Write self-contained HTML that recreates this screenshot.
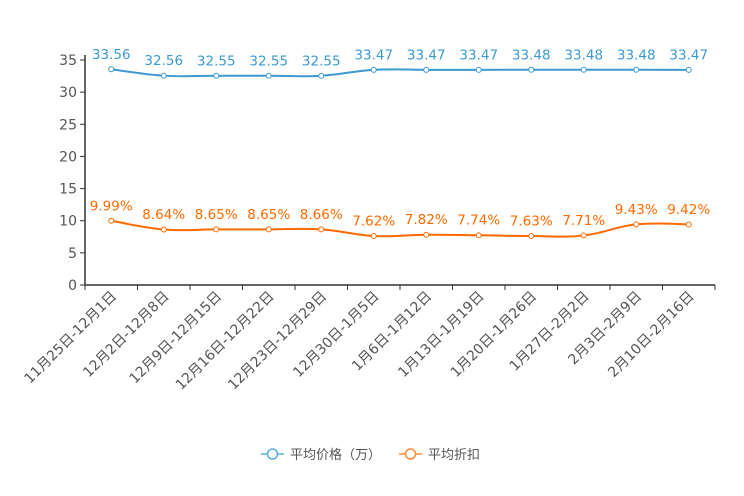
<!DOCTYPE html>
<html><head><meta charset="utf-8"><style>
body{margin:0;background:#fff}
svg{display:block;font-family:"DejaVu Sans","Noto Sans CJK SC",sans-serif}
</style></head><body>
<svg id="c" width="744" height="496"></svg>
<script>
const categories=["11月25日-12月1日","12月2日-12月8日","12月9日-12月15日","12月16日-12月22日","12月23日-12月29日","12月30日-1月5日","1月6日-1月12日","1月13日-1月19日","1月20日-1月26日","1月27日-2月2日","2月3日-2月9日","2月10日-2月16日"];
const priceValues=[33.56,32.56,32.55,32.55,32.55,33.47,33.47,33.47,33.48,33.48,33.48,33.47];
const discountValues=[9.99,8.64,8.65,8.65,8.66,7.62,7.82,7.74,7.63,7.71,9.43,9.42];
const yTicks=[0,5,10,15,20,25,30,35];
const NS="http://www.w3.org/2000/svg";
const svg=document.getElementById('c');
const L=85,R=715,T=60,B=285,YMAX=35;
const bw=(R-L)/categories.length;
const x=i=>L+bw*(i+0.5);
const y=v=>B-(v/YMAX)*(B-T);
function el(t,a,p){const e=document.createElementNS(NS,t);for(const k in a)e.setAttribute(k,a[k]);(p||svg).appendChild(e);return e;}
const ya=el('line',{x1:L,y1:T-5,x2:L,y2:B,stroke:'#333','stroke-width':1.5});


yTicks.forEach(v=>{
  const tk=el('line',{x1:L-5,y1:y(v),x2:L,y2:y(v),stroke:'#333'});
  
  
  const t=el('text',{x:L-8,y:y(v)+5,'text-anchor':'end','font-size':14,fill:'#555'});
  t.textContent=v;
  
  
});
const xa=el('line',{x1:L,y1:B,x2:R,y2:B,stroke:'#333','stroke-width':1.5});


for(let i=0;i<=categories.length;i++){
  const tk=el('line',{x1:L+bw*i,y1:B,x2:L+bw*i,y2:B+5,stroke:'#333'});
  
  
}
categories.forEach((c,i)=>{
  const t=el('text',{x:x(i)+6,y:B+12,'text-anchor':'end','font-size':14,fill:'#555',transform:`rotate(-45 ${x(i)+6} ${B+12})`});
  t.textContent=c;
  
  
});
function path(vals){
  const p=vals.map((v,i)=>[x(i),y(v)]);
  let d=`M${p[0][0]},${p[0][1]}`;
  for(let i=0;i<p.length-1;i++){
    const p0=p[i-1]||p[i],p1=p[i],p2=p[i+1],p3=p[i+2]||p2;
    const s=0.2;
    const c1=[p1[0]+(p2[0]-p0[0])*s,p1[1]+(p2[1]-p0[1])*s];
    const c2=[p2[0]-(p3[0]-p1[0])*s,p2[1]-(p3[1]-p1[1])*s];
    d+=` C${c1[0]},${c1[1]} ${c2[0]},${c2[1]} ${p2[0]},${p2[1]}`;
  }
  return d;
}
function series(vals,color,name,fmt){
  const g=el('g',{});
  
  
  const ln=el('path',{d:path(vals),fill:'none',stroke:color,'stroke-width':2},g);
  
  
  vals.forEach((v,i)=>{
    const c=el('circle',{cx:x(i),cy:y(v),r:2.5,fill:'#fff',stroke:color,'stroke-width':1},g);
    
    
    const t=el('text',{x:x(i),y:y(v)-10.5,'text-anchor':'middle','font-size':13.5,fill:color},g);
    t.textContent=fmt(v);
    
    
  });
}
series(priceValues,'#3b9ad2','price',v=>v.toFixed(2));
series(discountValues,'#ff6a00','discount',v=>v.toFixed(2)+'%');
function legend(lx,color,label,name){
  const g=el('g',{});
  
  
  el('line',{x1:lx,y1:454,x2:lx+23,y2:454,stroke:color,'stroke-width':1.5},g);
  el('circle',{cx:lx+11.5,cy:454,r:5,fill:'#fff',stroke:color,'stroke-width':1.5},g);
  const t=el('text',{x:lx+29,y:459,'font-size':13,fill:'#555'},g);
  t.textContent=label;
}
legend(261,'#5aaee0','平均价格（万）','legend-price');
legend(399,'#ff8a3c','平均折扣','legend-discount');
</script>
</body></html>
